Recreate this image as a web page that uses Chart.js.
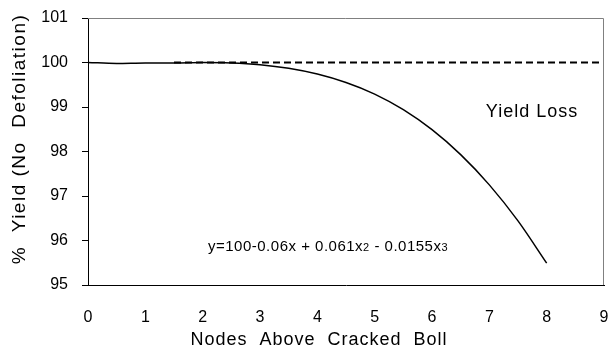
<!DOCTYPE html>
<html>
<head>
<meta charset="utf-8">
<script src="https://cdn.jsdelivr.net/npm/chart.js@4/dist/chart.umd.min.js"></script>
<style>
  html, body { margin: 0; padding: 0; background: #fff; }
  #wrap { width: 610px; height: 352px; }
</style>
</head>
<body>
<div id="wrap"><canvas id="yieldChart" width="610" height="352"></canvas></div>
<script>
// values
const nodes = [0, 0.5, 1, 1.5, 2, 2.5, 3, 3.5, 4, 4.5, 5, 5.5, 6, 6.5, 7, 7.5, 8];
const yieldPct = [100, 99.98, 99.99, 99.99, 100, 99.99, 99.95, 99.87, 99.74, 99.55, 99.29, 98.94, 98.49, 97.93, 97.25, 96.44, 95.49];
const refNodes = [1.5, 9];
const refYield = [100, 100];
const xTicks = [0, 1, 2, 3, 4, 5, 6, 7, 8, 9];
const yTicks = [95, 96, 97, 98, 99, 100, 101];

const FONT = "'Liberation Sans', Arial, sans-serif";

const extras = {
  id: "extras",
  afterDraw(chart) {
    const ctx = chart.ctx;
    const a = chart.chartArea;
    ctx.save();
    // top and right frame
    ctx.strokeStyle = "#808080";
    ctx.lineWidth = 1;
    ctx.beginPath();
    ctx.moveTo(a.left, a.top + 0.5);
    ctx.lineTo(a.right - 0.5, a.top + 0.5);
    ctx.lineTo(a.right - 0.5, a.bottom);
    ctx.stroke();

    ctx.fillStyle = "#000";
    ctx.letterSpacing = "1px";
    ctx.font = "18px " + FONT;
    ctx.textAlign = "center";
    ctx.textBaseline = "middle";
    ctx.fillText("Yield Loss", 532, 112);
    ctx.fillText("Nodes  Above  Cracked  Boll", 319, 340);

    ctx.save();
    ctx.translate(20, 139);
    ctx.rotate(-Math.PI / 2);
    ctx.letterSpacing = "1.5px";
    ctx.font = "19px " + FONT;
    ctx.fillText("%  Yield (No  Defoliation)", 0, 0);
    ctx.restore();

    // equation with small indices
    ctx.letterSpacing = "0.5px";
    ctx.textAlign = "left";
    ctx.textBaseline = "alphabetic";
    const parts = [
      ["y=100-0.06x + 0.061x", 15], ["2", 11], [" - 0.0155x", 15], ["3", 11]
    ];
    let x = 208;
    for (const [t, s] of parts) {
      ctx.font = s + "px " + FONT;
      ctx.fillText(t, x, 251);
      x += ctx.measureText(t).width;
    }
    ctx.restore();
  }
};

new Chart(document.getElementById("yieldChart"), {
  type: "line",
  data: {
    datasets: [
      {
        data: nodes.map((n, i) => ({ x: n, y: yieldPct[i] })),
        borderColor: "#000",
        borderWidth: 1.5,
        pointRadius: 0,
        tension: 0.4,
        cubicInterpolationMode: "monotone",
        fill: false,
      },
      {
        data: refNodes.map((n, i) => ({ x: n, y: refYield[i] })),
        borderColor: "#000",
        borderWidth: 2,
        borderDash: [7, 4],
        pointRadius: 0,
        fill: false,
      },
    ],
  },
  options: {
    responsive: false,
    animation: false,
    layout: { padding: { top: 18, right: 6, left: 0, bottom: 0 } },
    plugins: { legend: { display: false }, tooltip: { enabled: false } },
    scales: {
      x: {
        type: "linear",
        min: 0,
        max: 9,
        afterBuildTicks: (s) => { s.ticks = xTicks.map((v) => ({ value: v })); },
        afterFit: (s) => {
          s.height = 67;
          s.paddingLeft = 0;
          s.paddingRight = 0;
        },
        grid: { display: false },
        border: { display: true, color: "#000", width: 1 },
        ticks: { color: "#000", padding: 15, maxRotation: 0, font: { family: FONT, size: 16 } },
      },
      y: {
        min: 95,
        max: 101,
        afterBuildTicks: (s) => { s.ticks = yTicks.map((v) => ({ value: v })); },
        afterFit: (s) => {
          s.width = 88;
          s.paddingTop = 0;
          s.paddingBottom = 0;
        },
        grid: { drawOnChartArea: false, drawTicks: true, tickLength: 6, color: "#000" },
        border: { display: true, color: "#000", width: 1 },
        ticks: { color: "#000", padding: 14, font: { family: FONT, size: 16 } },
      },
    },
  },
  plugins: [extras],
});
</script>
</body>
</html>
